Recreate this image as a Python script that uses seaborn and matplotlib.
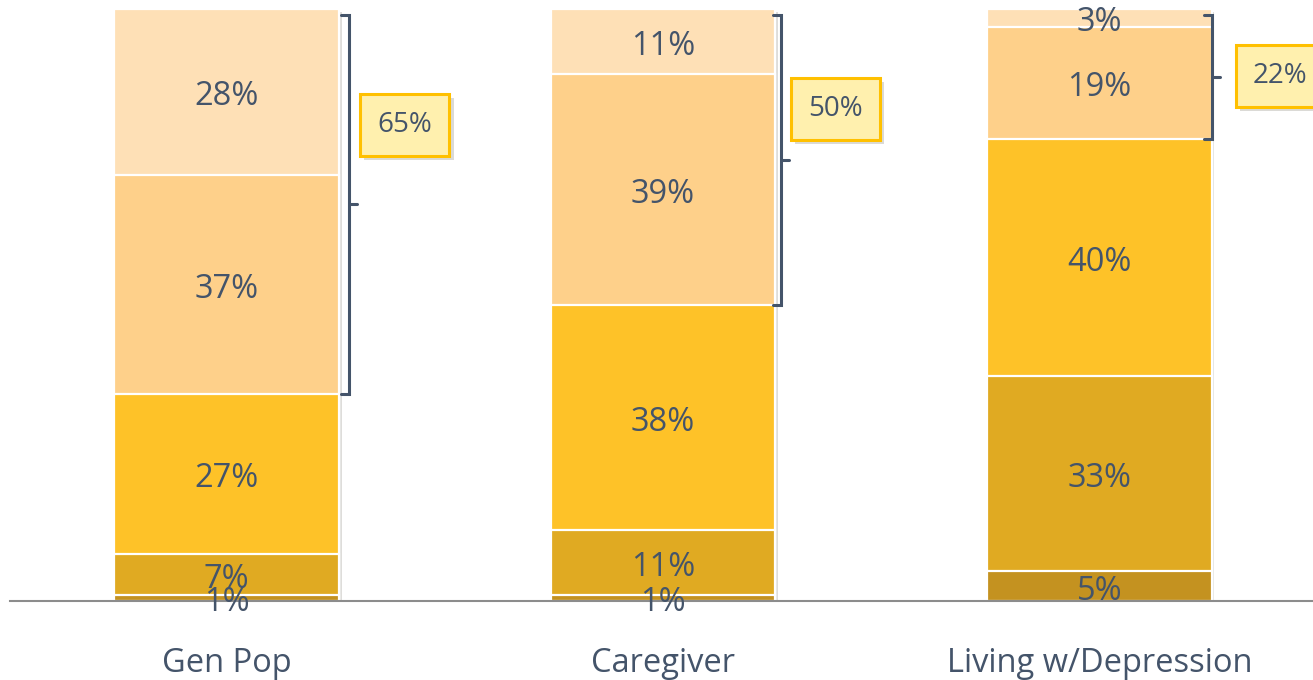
import matplotlib
matplotlib.use("Agg")
import matplotlib.pyplot as plt
import matplotlib.patheffects as pe
import numpy as np
import pandas as pd
import seaborn as sns

# data
categories = ["Gen Pop", "Caregiver", "Living w/Depression"]
seg1 = [1, 1, 5]      # bottom segment
seg2 = [7, 11, 33]
seg3 = [27, 38, 40]
seg4 = [37, 39, 19]
seg5 = [28, 11, 3]    # top segment
top_two = [65, 50, 22]

colors = ["#C49220", "#E0AA22", "#FEC228", "#FED08A", "#FEE0B6"]
text_color = "#44546A"

sns.set_theme(style="white")
plt.rcParams["font.family"] = ["Open Sans", "DejaVu Sans"]

segments = [seg1, seg2, seg3, seg4, seg5]
cum = np.cumsum(np.array(segments), axis=0)

fig = plt.figure(figsize=(13.13, 6.8), dpi=100)
ax = fig.add_axes([10 / 1313, 79 / 680, 1 - 10 / 1313, 1 - 79 / 680])

shadow = [pe.SimplePatchShadow(offset=(2, -2), alpha=0.18), pe.Normal()]

# stacked bars: draw cumulative heights from the top segment down
for i in reversed(range(len(segments))):
    df = pd.DataFrame({"cat": categories, "val": cum[i]})
    sns.barplot(data=df, x="cat", y="val", color=colors[i], saturation=1,
                width=0.515, edgecolor="white", linewidth=1.6, ax=ax)

for j, bar in enumerate(ax.patches):
    if j < len(categories):
        bar.set_path_effects(shadow)

# segment labels
for i, seg in enumerate(segments):
    for j, v in enumerate(seg):
        ax.annotate(f"{v}%", (j, cum[i][j] - v / 2), xytext=(0, -3.5),
                    textcoords="offset points", ha="center", va="center",
                    fontsize=23.5, color=text_color, zorder=5)

# brackets around the top two segments
bracket_x = [0.2795, 1.270, 2.259]
for j, tot in enumerate(top_two):
    x = bracket_x[j]
    y0 = cum[2][j]
    y1 = 99
    hook = 0.018
    ym = (y0 + y1) / 2
    ax.plot([x - hook, x, x, x - hook], [y1, y1, y0, y0],
            color=text_color, lw=2.2, solid_joinstyle="miter", zorder=4)
    ax.plot([x, x + hook], [ym, ym], color=text_color, lw=2.2, zorder=4)

# callout boxes
box_pos = [(0.408, 80.4), (1.395, 83.1), (2.415, 88.7)]
for (bx, by), tot in zip(box_pos, top_two):
    t = ax.text(bx, by, f"{tot}%", ha="center", va="center", fontsize=20,
                color=text_color, zorder=6,
                bbox=dict(boxstyle="square,pad=0.62", fc="#FFF0AE",
                          ec="#FFC000", lw=2.2))
    t.get_bbox_patch().set_path_effects(
        [pe.SimplePatchShadow(offset=(3, -3), alpha=0.2), pe.Normal()])

ax.set_xlim(-0.497, 2.49)
ax.set_ylim(0, 101.5)
ax.set_xlabel("")
ax.set_ylabel("")
ax.set_yticks([])
for s in ["left", "top", "right"]:
    ax.spines[s].set_visible(False)
ax.spines["bottom"].set_color("#8C8C8C")
ax.spines["bottom"].set_linewidth(1.5)
ax.tick_params(axis="x", length=0, pad=33, labelsize=23.5, labelcolor=text_color)
ax.set_facecolor("none")

fig.savefig("out.png", dpi=100)
